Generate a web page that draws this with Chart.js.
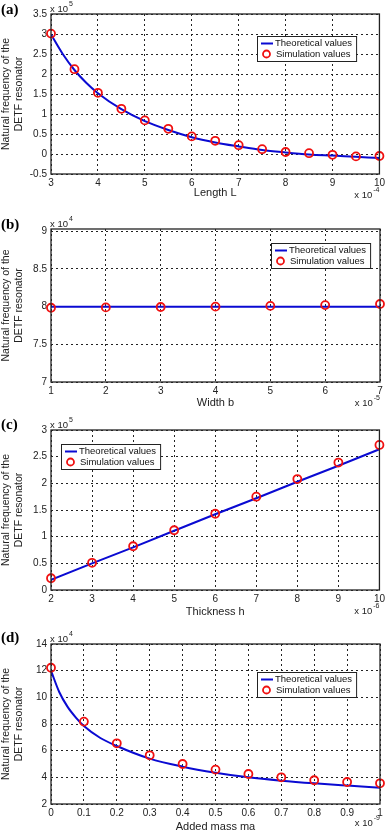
<!DOCTYPE html>
<html>
<head>
<meta charset="utf-8">
<script src="https://cdn.jsdelivr.net/npm/chart.js@4.4.0/dist/chart.umd.min.js"></script>
<style>
  body { margin: 0; background: #fff; }
  .panel { position: absolute; left: 0; width: 388px; }
</style>
</head>
<body>
<div class="panel" style="top:0px;height:205px"><canvas id="chartA" width="388" height="205"></canvas></div>
<div class="panel" style="top:205px;height:205px"><canvas id="chartB" width="388" height="205"></canvas></div>
<div class="panel" style="top:410px;height:210px"><canvas id="chartC" width="388" height="210"></canvas></div>
<div class="panel" style="top:620px;height:215px"><canvas id="chartD" width="388" height="215"></canvas></div>
<script>
// (a) frequency vs length L (x 1e-4), values x 1e5
let aTheoX = [3, 3.25, 3.5, 3.75, 4, 4.5, 5, 5.5, 6, 6.5, 7, 7.5, 8, 8.5, 9, 9.5, 10];
let aTheoY = [2.99, 2.5, 2.1, 1.78, 1.52, 1.12, 0.82, 0.6, 0.42, 0.29, 0.19, 0.1, 0.04, -0.01, -0.04, -0.07, -0.1];
let aSimX = [3, 3.5, 4, 4.5, 5, 5.5, 6, 6.5, 7, 7.5, 8, 8.5, 9, 9.5, 10];
let aSimY = [3.01, 2.12, 1.53, 1.13, 0.84, 0.63, 0.44, 0.33, 0.22, 0.12, 0.05, 0.02, -0.02, -0.06, -0.05];
let aXTicks = [3, 4, 5, 6, 7, 8, 9, 10];
let aYTicks = [-0.5, 0, 0.5, 1, 1.5, 2, 2.5, 3, 3.5];

// (b) frequency vs width b (x 1e-5), values x 1e4
let bTheoX = [1, 7];
let bTheoY = [8.0, 8.0];
let bSimX = [1, 2, 3, 4, 5, 6, 7];
let bSimY = [7.985, 7.99, 7.995, 8.0, 8.01, 8.02, 8.035];
let bXTicks = [1, 2, 3, 4, 5, 6, 7];
let bYTicks = [7, 7.5, 8, 8.5, 9];

// (c) frequency vs thickness h (x 1e-6), values x 1e5
let cTheoX = [2, 3, 4, 5, 6, 7, 8, 9, 10];
let cTheoY = [0.19, 0.5, 0.8, 1.11, 1.42, 1.72, 2.03, 2.33, 2.64];
let cSimX = [2, 3, 4, 5, 6, 7, 8, 9, 10];
let cSimY = [0.22, 0.51, 0.82, 1.12, 1.43, 1.75, 2.08, 2.39, 2.72];
let cXTicks = [2, 3, 4, 5, 6, 7, 8, 9, 10];
let cYTicks = [0, 0.5, 1, 1.5, 2, 2.5, 3];

// (d) frequency vs added mass ma (x 1e-9), values x 1e4
let dTheoX = [0, 0.025, 0.05, 0.075, 0.1, 0.15, 0.2, 0.3, 0.4, 0.5, 0.6, 0.7, 0.8, 0.9, 1];
let dTheoY = [12.0, 10.4, 9.3, 8.5, 7.85, 6.95, 6.35, 5.4, 4.8, 4.35, 4.0, 3.75, 3.55, 3.38, 3.22];
let dSimX = [0, 0.1, 0.2, 0.3, 0.4, 0.5, 0.6, 0.7, 0.8, 0.9, 1];
let dSimY = [12.22, 8.18, 6.55, 5.65, 5.0, 4.58, 4.25, 4.0, 3.78, 3.65, 3.55];
let dXTicks = [0, 0.1, 0.2, 0.3, 0.4, 0.5, 0.6, 0.7, 0.8, 0.9, 1];
let dYTicks = [2, 4, 6, 8, 10, 12, 14];

let yTitle = ['Natural frequency of the', 'DETF resonator'];
let seriesNames = ['Theoretical values', 'Simulation values'];

const FONT = '"Liberation Sans", Arial, sans-serif';
const BLUE = '#0a0ad2';
const RED = '#f01010';

let pts = (xs, ys) => xs.map((x, i) => ({ x: x, y: ys[i] }));

// panel letter, exponents, frame and legend box
const extras = {
  id: 'extras',
  afterDraw(chart, args, o) {
    const ctx = chart.ctx;
    const a = chart.chartArea;
    ctx.save();
    // frame
    ctx.strokeStyle = '#222';
    ctx.lineWidth = 1.3;
    ctx.strokeRect(a.left, a.top, a.right - a.left, a.bottom - a.top);
    // panel letter
    ctx.fillStyle = '#000';
    ctx.font = 'bold 15px "Liberation Serif", "Times New Roman", serif';
    ctx.textBaseline = 'middle';
    ctx.textAlign = 'left';
    ctx.fillText(o.panel, 1, o.panelY);
    // exponents
    ctx.fillStyle = '#222';
    ctx.textBaseline = 'alphabetic';
    ctx.font = '9.5px ' + FONT;
    let base = 'x 10';
    ctx.fillText(base, a.left - 1, a.top - 2);
    let w = ctx.measureText(base).width;
    ctx.font = '7px ' + FONT;
    ctx.fillText(o.yExp, a.left - 1 + w + 1, a.top - 8);
    let ew = ctx.measureText(o.xExp).width;
    ctx.font = '9.5px ' + FONT;
    let bx = a.right - ew - w - 1;
    ctx.fillText(base, bx, a.bottom + o.xExpDy);
    ctx.font = '7px ' + FONT;
    ctx.fillText(o.xExp, bx + w + 1, a.bottom + o.xExpDy - 6);
    // legend
    const L = o.legend;
    ctx.font = '9.5px ' + FONT;
    let tw = Math.max(ctx.measureText(seriesNames[0]).width, ctx.measureText(seriesNames[1]).width);
    let bw = tw + 22, bh = 25;
    ctx.fillStyle = '#fff';
    ctx.fillRect(L.x, L.y, bw, bh);
    ctx.strokeStyle = '#222';
    ctx.lineWidth = 1;
    ctx.strokeRect(L.x + 0.5, L.y + 0.5, bw, bh);
    ctx.strokeStyle = BLUE;
    ctx.lineWidth = 2;
    ctx.beginPath();
    ctx.moveTo(L.x + 4, L.y + 7.5);
    ctx.lineTo(L.x + 16, L.y + 7.5);
    ctx.stroke();
    ctx.strokeStyle = RED;
    ctx.lineWidth = 1.8;
    ctx.beginPath();
    ctx.arc(L.x + 9.5, L.y + 18, 3.5, 0, Math.PI * 2);
    ctx.stroke();
    ctx.fillStyle = '#111';
    ctx.textBaseline = 'middle';
    ctx.fillText(seriesNames[0], L.x + 18, L.y + 7.5);
    ctx.fillText(seriesNames[1], L.x + 19, L.y + 18);
    ctx.restore();
  }
};

function makeChart(id, cfg) {
  const ctx = document.getElementById(id).getContext('2d');
  return new Chart(ctx, {
    type: 'scatter',
    data: {
      datasets: [{
        label: seriesNames[0],
        data: pts(cfg.theoX, cfg.theoY),
        showLine: true,
        borderColor: BLUE,
        borderWidth: 2,
        pointRadius: 0,
        cubicInterpolationMode: cfg.smooth ? 'monotone' : 'default',
        order: 2
      }, {
        label: seriesNames[1],
        data: pts(cfg.simX, cfg.simY),
        showLine: false,
        borderColor: RED,
        backgroundColor: 'rgba(0,0,0,0)',
        pointRadius: 4,
        pointBorderWidth: 1.8,
        clip: false,
        order: 1
      }]
    },
    options: {
      responsive: false,
      animation: false,
      devicePixelRatio: 1,
      layout: { padding: { top: cfg.top, right: 8, left: 0, bottom: 0 } },
      plugins: {
        legend: { display: false },
        tooltip: { enabled: false },
        extras: { panel: cfg.panel, panelY: cfg.panelY, yExp: cfg.yExp, xExp: cfg.xExp, xExpDy: cfg.xExpDy, legend: cfg.legend }
      },
      scales: {
        x: {
          type: 'linear',
          min: cfg.xTicks[0],
          max: cfg.xTicks[cfg.xTicks.length - 1],
          afterBuildTicks: s => { s.ticks = cfg.xTicks.map(v => ({ value: v })); },
          afterFit: s => { s.height = cfg.xh; },
          grid: { color: '#222', lineWidth: 1, drawTicks: false },
          border: { display: false, dash: [2, 3] },
          ticks: { color: '#222', font: { family: FONT, size: 10 }, padding: 3, maxRotation: 0, autoSkip: false, callback: v => String(v) },
          title: { display: true, text: cfg.xTitle, color: '#222', font: { family: FONT, size: 11 }, padding: { top: 0, bottom: cfg.xtPad } }
        },
        y: {
          type: 'linear',
          min: cfg.yTicks[0],
          max: cfg.yMax,
          afterBuildTicks: s => { s.ticks = cfg.yTicks.map(v => ({ value: v })); },
          afterFit: s => { s.width = 51; },
          grid: { color: '#222', lineWidth: 1, drawTicks: false },
          border: { display: false, dash: [2, 3] },
          ticks: { color: '#222', font: { family: FONT, size: 10 }, padding: 4, autoSkip: false, callback: v => String(v) },
          title: { display: true, text: yTitle, color: '#222', font: { family: FONT, size: 10.5 }, padding: { top: 0, bottom: 0 } }
        }
      }
    },
    plugins: [extras]
  });
}

makeChart('chartA', {
  theoX: aTheoX, theoY: aTheoY, simX: aSimX, simY: aSimY, smooth: true,
  xTicks: aXTicks, yTicks: aYTicks, yMax: 3.5, xTitle: 'Length L',
  top: 14, xh: 31, xtPad: 5, panel: '(a)', panelY: 10, yExp: '5', xExp: '-4', xExpDy: 24,
  legend: { x: 257, y: 36 }
});
makeChart('chartB', {
  theoX: bTheoX, theoY: bTheoY, simX: bSimX, simY: bSimY, smooth: false,
  xTicks: bXTicks, yTicks: bYTicks, yMax: 9.03, xTitle: 'Width b',
  top: 24, xh: 28, xtPad: 0, panel: '(b)', panelY: 20, yExp: '4', xExp: '-5', xExpDy: 24,
  legend: { x: 271, y: 38 }
});
makeChart('chartC', {
  theoX: cTheoX, theoY: cTheoY, simX: cSimX, simY: cSimY, smooth: false,
  xTicks: cXTicks, yTicks: cYTicks, yMax: 3, xTitle: 'Thickness h',
  top: 20, xh: 30, xtPad: 1.4, panel: '(c)', panelY: 15, yExp: '5', xExp: '-6', xExpDy: 24,
  legend: { x: 61, y: 34 }
});
makeChart('chartD', {
  theoX: dTheoX, theoY: dTheoY, simX: dSimX, simY: dSimY, smooth: true,
  xTicks: dXTicks, yTicks: dYTicks, yMax: 14, xTitle: 'Added mass ma',
  top: 24, xh: 31, xtPad: 1.4, panel: '(d)', panelY: 18, yExp: '4', xExp: '-9', xExpDy: 22,
  legend: { x: 257, y: 52 }
});
</script>
</body>
</html>
